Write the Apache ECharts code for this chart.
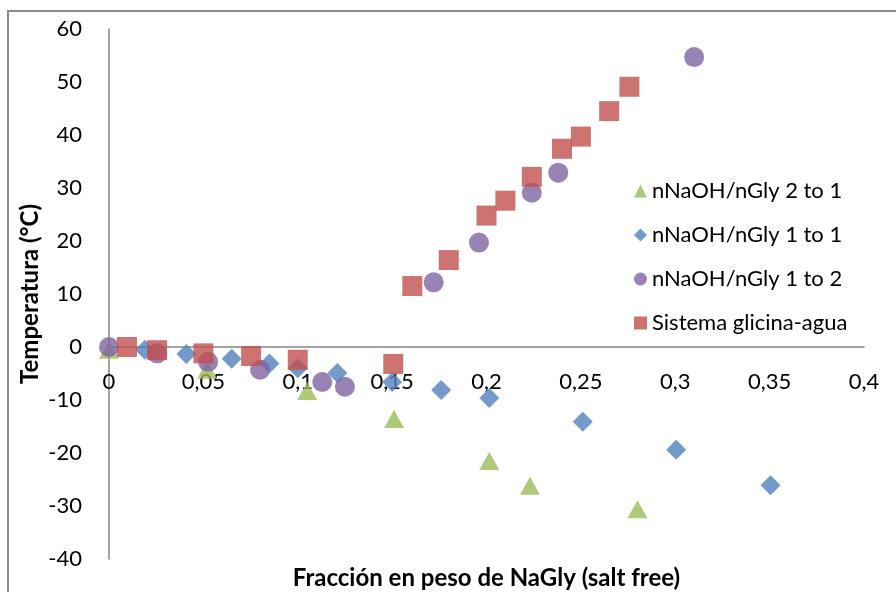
<!DOCTYPE html>
<html>
<head>
<meta charset="utf-8">
<script src="https://cdn.jsdelivr.net/npm/echarts@6/dist/echarts.min.js"></script>
<style>html,body{margin:0;padding:0;background:#fff}#c{width:896px;height:592px}</style>
</head>
<body>
<div id="c"></div>
<script>
// Series data
const names = ['nNaOH/nGly 2 to 1', 'nNaOH/nGly 1 to 1', 'nNaOH/nGly 1 to 2', 'Sistema glicina-agua'];
const g21X = [0, 0.052, 0.105, 0.151, 0.2015, 0.223, 0.280];
const g21Y = [-0.5, -4.3, -8.3, -13.6, -21.5, -26.2, -30.6];
const g11X = [0.019, 0.041, 0.065, 0.085, 0.100, 0.121, 0.150, 0.176, 0.2015, 0.251, 0.3005, 0.3505];
const g11Y = [-0.5, -1.3, -2.2, -3.1, -4.0, -4.9, -6.6, -8.1, -9.6, -14.1, -19.4, -26.1];
const g12X = [0, 0.0255, 0.0525, 0.080, 0.113, 0.125, 0.172, 0.196, 0.224, 0.238, 0.310];
const g12Y = [0, -1.2, -2.8, -4.3, -6.6, -7.5, 12.2, 19.7, 29.1, 32.9, 54.7];
const sgaX = [0.0095, 0.0255, 0.050, 0.0753, 0.100, 0.1506, 0.1607, 0.180, 0.200, 0.210, 0.224, 0.240, 0.250, 0.265, 0.2757];
const sgaY = [0, -0.6, -1.2, -1.7, -2.4, -3.2, 11.5, 16.4, 24.8, 27.6, 32.1, 37.4, 39.7, 44.5, 49.1];
const xTitle = 'Fracción en peso de NaGly (salt free)';
const yTitle = 'Temperatura (°C)';
const xMin = 0, xMax = 0.4, xStep = 0.05;
const yMin = -40, yMax = 60, yStep = 10;

const pairs = (xs, ys) => xs.map((x, i) => [x, ys[i]]);
const FONT = 'Lato';
const fmtX = v => String(Math.round(v * 100) / 100).replace('.', ',');

// plot area: left 109, right 864, top 29, bottom 559; zero line at y = 29 + 530*60/100 = 347
const chart = echarts.init(document.getElementById('c'), null, {renderer: 'canvas'});
chart.setOption({
  animation: false,
  backgroundColor: '#fff',
  textStyle: {fontFamily: FONT},
  grid: [
    {left: 109, right: 32, top: 29, bottom: 33, containLabel: false, outerBoundsMode: 'none'},
    {left: 109, right: 32, top: 29, bottom: 245, containLabel: false, outerBoundsMode: 'none'}
  ],
  xAxis: [
    {
      gridIndex: 0, type: 'value', min: xMin, max: xMax, interval: xStep,
      axisLine: {show: false},
      axisTick: {show: false},
      splitLine: {show: false},
      axisLabel: {show: false},
      name: xTitle, nameLocation: 'middle', nameGap: 7, nameMoveOverlap: false,
      nameTextStyle: {color: '#000', fontSize: 24, fontWeight: 'bold', fontFamily: FONT, verticalAlign: 'top'}
    },
    {
      gridIndex: 1, type: 'value', min: xMin, max: xMax, interval: xStep,
      axisLine: {show: true, onZero: false, lineStyle: {color: '#868686', width: 1.5}},
      axisTick: {show: false},
      splitLine: {show: false},
      axisLabel: {color: '#000', fontSize: 22, fontFamily: FONT, margin: 24, formatter: fmtX}
    }
  ],
  yAxis: [
    {
      gridIndex: 0, type: 'value', min: yMin, max: yMax, interval: yStep,
      axisLine: {onZero: false, lineStyle: {color: '#868686', width: 1.5}},
      axisTick: {show: false},
      splitLine: {show: false},
      axisLabel: {color: '#000', fontSize: 22, fontFamily: FONT, margin: 27},
      name: yTitle, nameLocation: 'middle', nameGap: 67, nameRotate: 90, nameMoveOverlap: false,
      nameTextStyle: {color: '#000', fontSize: 24, fontWeight: 'bold', fontFamily: FONT}
    },
    {
      gridIndex: 1, type: 'value', min: 0, max: yMax, show: false
    }
  ],
  legend: {
    orient: 'vertical', left: 629, top: 175,
    itemWidth: 13, itemHeight: 13, itemGap: 22, itemTextGap: 4,
    textStyle: {color: '#000', fontSize: 22, fontFamily: FONT, lineHeight: 22},
    data: names
  },
  graphic: [
    {type: 'line', shape: {x1: 8, y1: 11, x2: 896, y2: 11}, style: {stroke: '#8c8c8c', lineWidth: 2}},
    {type: 'line', shape: {x1: 8, y1: 10, x2: 8, y2: 592}, style: {stroke: '#8c8c8c', lineWidth: 2}}
  ],
  series: [
    {name: names[0], type: 'scatter', symbol: 'triangle', symbolSize: [20, 18],
     itemStyle: {color: '#9BBB59'}, data: pairs(g21X, g21Y)},
    {name: names[1], type: 'scatter', symbol: 'diamond', symbolSize: 20,
     itemStyle: {color: '#4F81BD'}, data: pairs(g11X, g11Y)},
    {name: names[2], type: 'scatter', symbol: 'circle', symbolSize: 20,
     itemStyle: {color: '#8064A2'}, data: pairs(g12X, g12Y)},
    {name: names[3], type: 'scatter', symbol: 'rect', symbolSize: 20,
     itemStyle: {color: '#C0504D'}, data: pairs(sgaX, sgaY)}
  ]
});
</script>
</body>
</html>
